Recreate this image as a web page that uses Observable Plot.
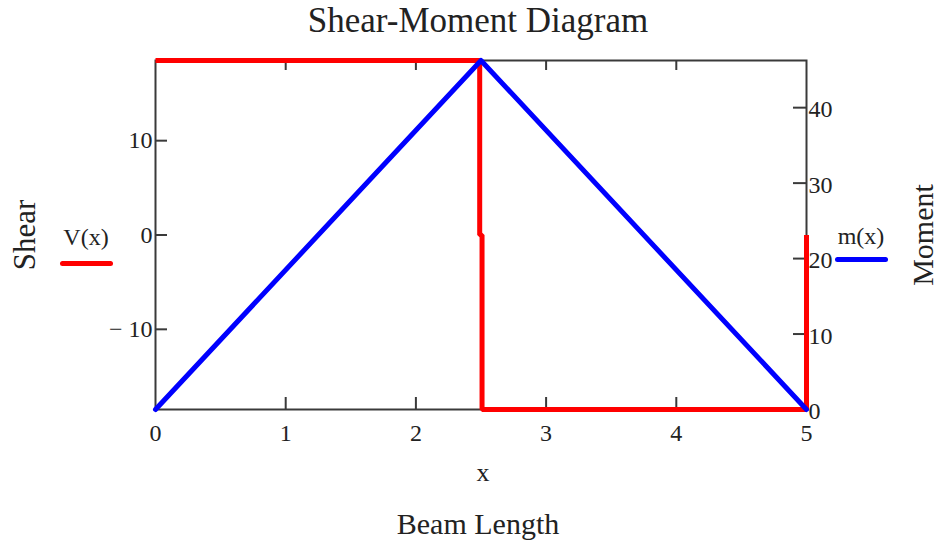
<!DOCTYPE html>
<html>
<head>
<meta charset="utf-8">
<script src="https://cdn.jsdelivr.net/npm/d3@7"></script>
<script src="https://cdn.jsdelivr.net/npm/@observablehq/plot@0.6"></script>
<style>
  html, body { margin: 0; padding: 0; background: #fff; }
  #wrap { position: relative; width: 940px; height: 544px; font-family: "Liberation Serif", "Times New Roman", serif; color: #222; }
  #wrap svg { position: absolute; left: 0; top: 0; }
  .t { position: absolute; line-height: 1; white-space: nowrap; }
  .rot { transform: translate(-50%, -50%) rotate(-90deg); }
  .leg { position: absolute; height: 5px; border-radius: 3px; }
</style>
</head>
<body>
<div id="wrap"></div>
<script>
// ---- data ----
const xTicks = [0, 1, 2, 3, 4, 5];
const xInnerTicks = [1, 2, 3, 4];
const shearTicks = [-10, 0, 10];
const momentTicks = [0, 10, 20, 30, 40];
const shearX = [0, 2.49, 2.49, 2.508, 2.508, 5, 5];
const shearV = [18.5, 18.5, 0, 0, -18.5, -18.5, 0];
const momentX = [0, 2.5, 5];
const momentM = [0, 46.25, 0];

const shearMax = 18.5;
const momentMax = 46.25;
const toShear = m => -shearMax + m * (2 * shearMax / momentMax);
const toMoment = s => (s + shearMax) * momentMax / (2 * shearMax);

const shearData = shearX.map((x, i) => ({x, v: shearV[i]}));
const momentData = momentX.map((x, i) => ({x, m: momentM[i], s: toShear(momentM[i])}));

const W = 940, H = 544;
const mL = 155, mR = 134, mT = 60, mB = 135;
const fw = W - mL - mR, fh = H - mT - mB;
const axisColor = "#3a3a3a";

const chart = Plot.plot({
  width: W, height: H,
  marginLeft: mL, marginRight: mR, marginTop: mT, marginBottom: mB,
  style: {fontFamily: "'Liberation Serif', 'Times New Roman', serif", fontSize: "24px", color: "#222", background: "transparent", overflow: "visible"},
  x: {domain: [0, 5]},
  y: {domain: [-shearMax, shearMax]},
  marks: [
    Plot.frame({stroke: axisColor, strokeWidth: 2}),
    Plot.tickX(xInnerTicks, {x: d => d, insetTop: fh - 12, stroke: axisColor, strokeWidth: 2}),
    Plot.tickX(xInnerTicks, {x: d => d, insetBottom: fh - 10, stroke: axisColor, strokeWidth: 2}),
    Plot.tickY(shearTicks, {y: d => d, insetRight: fw - 12, stroke: axisColor, strokeWidth: 2}),
    Plot.tickY(momentTicks.map(toShear), {y: d => d, insetLeft: fw - 13, stroke: axisColor, strokeWidth: 2}),
    Plot.axisX(xTicks, {anchor: "bottom", tickSize: 0, tickPadding: 14, tickFormat: d => String(d), label: null}),
    Plot.axisY(shearTicks, {anchor: "left", tickSize: 0, tickPadding: 3, tickFormat: d => d < 0 ? "\u2212 " + Math.abs(d) : String(d), label: null}),
    Plot.axisY(momentTicks.map(toShear), {anchor: "right", tickSize: 0, tickPadding: 2, dy: 2, tickFormat: d => String(Math.round(toMoment(d))), label: null}),
    Plot.line(shearData, {x: "x", y: "v", stroke: "#ff0000", strokeWidth: 5, strokeLinejoin: "miter", strokeLinecap: "butt"}),
    Plot.line(momentData, {x: "x", y: "s", stroke: "#0000ff", strokeWidth: 5, strokeLinejoin: "round", strokeLinecap: "round"})
  ]
});

const wrap = document.getElementById("wrap");
wrap.appendChild(chart);

function addText(txt, fs, left, baseline, align) {
  const d = document.createElement("div");
  d.className = "t";
  d.textContent = txt;
  d.style.fontSize = fs + "px";
  d.style.top = (baseline - 0.8375 * fs) + "px";
  if (align === "center") { d.style.left = left + "px"; d.style.transform = "translateX(-50%)"; }
  else d.style.left = left + "px";
  wrap.appendChild(d);
  return d;
}
function addRot(txt, fs, cx, cy) {
  const d = document.createElement("div");
  d.className = "t rot";
  d.textContent = txt;
  d.style.fontSize = fs + "px";
  d.style.left = cx + "px";
  d.style.top = cy + "px";
  wrap.appendChild(d);
}
function addLeg(color, x1, x2, y) {
  const d = document.createElement("div");
  d.className = "leg";
  d.style.background = color;
  d.style.left = x1 + "px";
  d.style.width = (x2 - x1) + "px";
  d.style.top = (y - 2.5) + "px";
  wrap.appendChild(d);
}

addText("Shear-Moment Diagram", 35, 478, 32, "center");
addText("x", 26, 483, 482, "center");
addText("Beam Length", 30, 478, 534, "center");
addRot("Shear", 31, 24, 235);
addRot("Moment", 30, 923, 235);
addText("V(x)", 24, 86, 245, "center");
addLeg("#ff0000", 60, 113, 263);
addText("m(x)", 24, 861, 244, "center");
addLeg("#0000ff", 835, 888, 259);
</script>
</body>
</html>
